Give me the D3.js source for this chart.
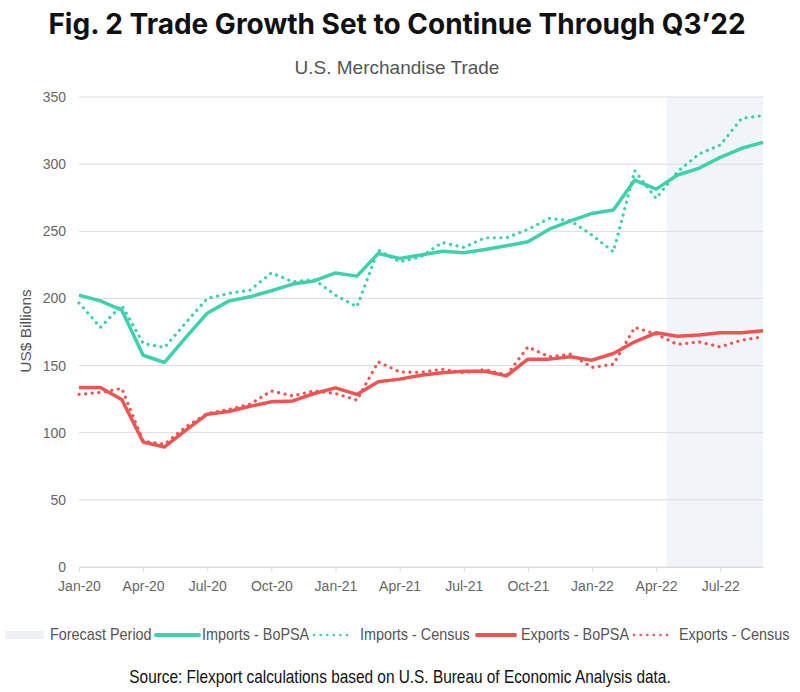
<!DOCTYPE html>
<html>
<head>
<meta charset="utf-8">
<script src="https://cdn.jsdelivr.net/npm/d3@7"></script>
<style>
    body { margin: 0; background: #fff; }
    text { font-family: "Liberation Sans", Arial, sans-serif; }
</style>
</head>
<body>
<div id="viz"></div>
<script>
// months Jan-20 .. Sep-22
const months = ["Jan-20","Feb-20","Mar-20","Apr-20","May-20","Jun-20","Jul-20","Aug-20","Sep-20","Oct-20","Nov-20","Dec-20",
    "Jan-21","Feb-21","Mar-21","Apr-21","May-21","Jun-21","Jul-21","Aug-21","Sep-21","Oct-21","Nov-21","Dec-21",
    "Jan-22","Feb-22","Mar-22","Apr-22","May-22","Jun-22","Jul-22","Aug-22","Sep-22"];

const importsBoPSA = [202.5,198.2,191.3,157.7,152.3,171,189,198,201.2,205.7,210.7,213,
    219,216.6,233.5,229.8,232.3,235.2,234,236.5,239.2,242.2,251.6,257.8,
    263.3,265.8,288.1,281.4,291.9,296.9,305,311.8,316.2];
const importsCensus = [196.7,178.4,195,166.5,163.5,182,200,203.7,206.2,219,212.4,214,
    202.5,193.7,236,227.3,231,241.7,238,245.2,245.2,251.4,259.6,257.8,
    247.2,234.7,295.1,274.5,294.3,307.5,314.2,334.1,336.1];
const exportsBoPSA = [133.7,133.7,124.7,93.1,89.4,101.9,113.8,115.8,119.7,123,123.7,129.2,
    133.4,128.5,137.9,139.9,142.8,144.6,145.8,145.8,142.3,154.8,154.8,156.5,
    154,159,167.7,174.4,171.9,172.7,174.4,174.4,175.9];
const exportsCensus = [128.5,130,133,93.7,91.4,104.3,114.3,117.3,121.2,131.1,127.4,131.1,
    129.2,124.2,152.8,145.3,144.9,147.3,144.6,147.1,142.8,163.9,156.5,158.5,
    148.6,151,178.4,173.4,165.7,167.7,163.9,168.9,171.4];

const yTicks = [0, 50, 100, 150, 200, 250, 300, 350];
const xTickLabels = ["Jan-20","Apr-20","Jul-20","Oct-20","Jan-21","Apr-21","Jul-21","Oct-21","Jan-22","Apr-22","Jul-22"];
const forecastFrom = ["Apr-22", "May-22"]; // shade starts half way between these

const series = [
    {name: "Imports - BoPSA", values: importsBoPSA, color: "#3dd1ad", dash: null},
    {name: "Imports - Census", values: importsCensus, color: "#3dd1ad", dash: "0.1 6.5"},
    {name: "Exports - BoPSA", values: exportsBoPSA, color: "#ee5552", dash: null},
    {name: "Exports - Census", values: exportsCensus, color: "#ee5552", dash: "0.1 6.5"}
];

const width = 800, height = 692;
const margin = {top: 97, right: 37, bottom: 125, left: 79};

const svg = d3.select("#viz").append("svg")
    .attr("width", width)
    .attr("height", height);

const x = d3.scalePoint()
    .domain(months)
    .range([margin.left, width - margin.right]);

const y = d3.scaleLinear()
    .domain([0, 350])
    .range([height - margin.bottom, margin.top]);

// forecast shading
const fx = (x(forecastFrom[0]) + x(forecastFrom[1])) / 2;
svg.append("rect")
    .attr("x", fx)
    .attr("y", y(350))
    .attr("width", x(months[months.length - 1]) - fx)
    .attr("height", y(0) - y(350))
    .attr("fill", "#f1f5f9");

// grid
svg.append("g")
    .selectAll("line")
    .data(yTicks)
    .enter().append("line")
    .attr("x1", margin.left)
    .attr("x2", width - margin.right)
    .attr("y1", d => y(d))
    .attr("y2", d => y(d))
    .attr("stroke", "#dcdcdc")
    .attr("stroke-width", 1);

// y axis labels
svg.append("g")
    .attr("transform", "translate(" + margin.left + ",0)")
    .call(d3.axisLeft(y).tickValues(yTicks).tickSize(0).tickPadding(13))
    .call(g => g.select(".domain").remove())
    .call(g => g.selectAll("text")
        .attr("fill", "#666")
        .style("font-size", "14px"));

// x axis
svg.append("g")
    .attr("transform", "translate(0," + y(0) + ")")
    .call(d3.axisBottom(x).tickValues(xTickLabels).tickSize(5).tickSizeOuter(0).tickPadding(9))
    .call(g => g.select(".domain").attr("stroke", "#dcdcdc"))
    .call(g => g.selectAll(".tick line").attr("stroke", "#dcdcdc"))
    .call(g => g.selectAll("text")
        .attr("fill", "#666")
        .style("font-size", "14px"));

// lines
const line = d3.line()
    .x((d, i) => x(months[i]))
    .y(d => y(d));

svg.append("g")
    .selectAll("path")
    .data(series)
    .enter().append("path")
    .attr("d", d => line(d.values))
    .attr("fill", "none")
    .attr("stroke", d => d.color)
    .attr("stroke-width", d => d.dash ? 3.2 : 3.5)
    .attr("stroke-linecap", d => d.dash ? "round" : "butt")
    .attr("stroke-linejoin", "round")
    .attr("stroke-dasharray", d => d.dash);

// titles
svg.append("text")
    .attr("x", width / 2 - 3)
    .attr("y", 34)
    .attr("text-anchor", "middle")
    .style("font-family", "Inter, 'Open Sans', sans-serif")
    .style("font-weight", "bold")
    .style("font-size", "28px")
    .attr("fill", "#111")
    .text("Fig. 2 Trade Growth Set to Continue Through Q3\u201922");

svg.append("text")
    .attr("x", 397)
    .attr("y", 74)
    .attr("text-anchor", "middle")
    .style("font-size", "19px")
    .attr("fill", "#555")
    .text("U.S. Merchandise Trade");

svg.append("text")
    .attr("transform", "translate(31," + 331 + ") rotate(-90)")
    .attr("text-anchor", "middle")
    .style("font-size", "15.5px")
    .attr("fill", "#555")
    .text("US$ Billions");

// legend
const legendY = 635;
const legendItems = [
    {label: "Forecast Period", type: "rect", sx: 5, sw: 39, tx: 50},
    {label: "Imports - BoPSA", type: "line", s: series[0], sx: 156, sw: 43, tx: 202},
    {label: "Imports - Census", type: "line", s: series[1], sx: 314, sw: 38, tx: 360},
    {label: "Exports - BoPSA", type: "line", s: series[2], sx: 477, sw: 38, tx: 521},
    {label: "Exports - Census", type: "line", s: series[3], sx: 634, sw: 36, tx: 679}
];

const leg = svg.append("g");
legendItems.forEach(function(d) {
    if (d.type == "rect") {
        leg.append("rect")
            .attr("x", d.sx).attr("y", legendY - 4)
            .attr("width", d.sw).attr("height", 8)
            .attr("fill", "#eef2f7");
    } else {
        leg.append("line")
            .attr("x1", d.sx).attr("x2", d.sx + d.sw)
            .attr("y1", legendY).attr("y2", legendY)
            .attr("stroke", d.s.color)
            .attr("stroke-width", d.s.dash ? 2.5 : 4)
            .attr("stroke-linecap", "round")
            .attr("stroke-dasharray", d.s.dash ? "0.1 6.5" : null);
    }
    // condensed look: squeeze the text horizontally
    leg.append("text")
        .attr("transform", "translate(" + d.tx + "," + (legendY + 5) + ") scale(0.9,1)")
        .style("font-size", "16px")
        .attr("fill", "#555")
        .text(d.label);
});

svg.append("text")
    .attr("transform", "translate(" + (width / 2) + ",683) scale(0.88,1)")
    .attr("text-anchor", "middle")
    .style("font-size", "17.5px")
    .attr("fill", "#111")
    .text("Source: Flexport calculations based on U.S. Bureau of Economic Analysis data.");
</script>
</body>
</html>
